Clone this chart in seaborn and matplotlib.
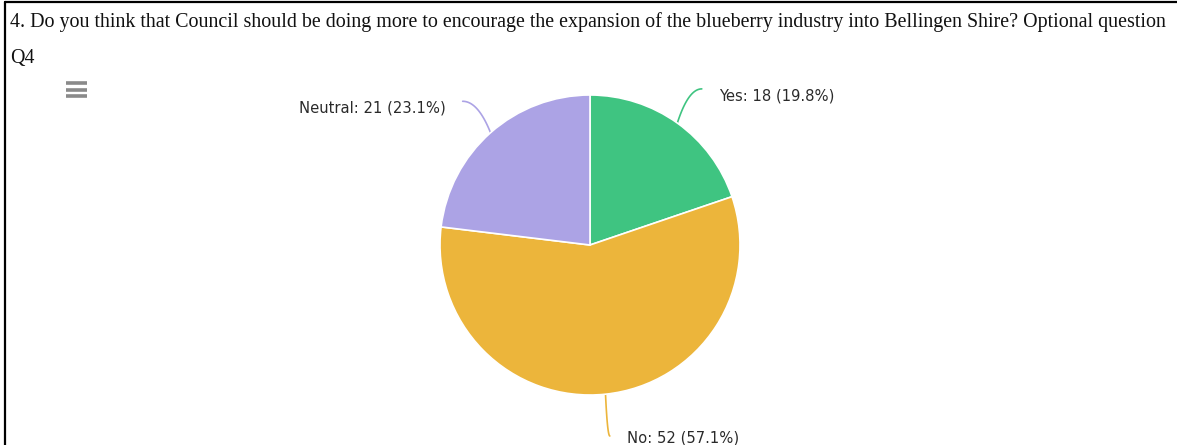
import numpy as np
import matplotlib
matplotlib.use("Agg")
import matplotlib.pyplot as plt
from matplotlib.lines import Line2D
import seaborn as sns

# Survey responses
categories = ["Yes", "No", "Neutral"]
counts = [18, 52, 21]
percent_labels = ["19.8%", "57.1%", "23.1%"]
slice_colors = ["#3fc481", "#ecb53b", "#aca3e5"]

title_text = ("4. Do you think that Council should be doing more to encourage the expansion "
              "of the blueberry industry into Bellingen Shire? Optional question")
subtitle_text = "Q4"

sns.set_theme(style="white")
plt.rcParams["font.family"] = ["DejaVu Sans"]

W, H = 1177, 445
fig = plt.figure(figsize=(W / 100, H / 100), dpi=100)

# Overlay in pixel coordinates for the page furniture and labels
ov = fig.add_axes([0, 0, 1, 1])
ov.set_xlim(0, W)
ov.set_ylim(H, 0)
ov.axis("off")

# Frame lines (top and left)
ov.add_line(Line2D([5, W], [1.5, 1.5], color="black", lw=1.6))
ov.add_line(Line2D([5, 5], [1.5, H], color="black", lw=1.6))

ov.text(10, 22, title_text, family="Liberation Serif", fontsize=14.4,
        va="center", ha="left", color="#111111")
ov.text(10, 58, subtitle_text, family="Liberation Serif", fontsize=14.4,
        va="center", ha="left", color="#111111")

# Menu icon
for yy in (83, 89.5, 96):
    ov.add_line(Line2D([66, 87], [yy, yy], color="#8a8a8a", lw=2.6,
                       solid_capstyle="butt"))

# Pie
cx, cy, R = 590, 245, 150
pie_ax = fig.add_axes([(cx - R) / W, 1 - (cy + R) / H, 2 * R / W, 2 * R / H])
wedges, _ = pie_ax.pie(counts, colors=slice_colors, startangle=90, counterclock=False,
                       wedgeprops=dict(edgecolor="white", linewidth=1.2))
pie_ax.set_aspect("auto")
pie_ax.set_xlim(-1, 1)
pie_ax.set_ylim(-1, 1)
pie_ax.axis("off")

total = sum(counts)
cum = 0.0
for cat, n, pct, col in zip(categories, counts, percent_labels, slice_colors):
    mid = (cum + n / 2) / total * 2 * np.pi  # clockwise from top
    cum += n
    dx, dy = np.sin(mid), -np.cos(mid)
    p0 = np.array([cx + R * dx, cy + R * dy])
    p2 = np.array([cx + 1.28 * R * dx, cy + 1.28 * R * dy])
    side = 1 if dx >= 0 else -1
    p1 = np.array([p0[0] + 0.45 * (p2[0] - p0[0]), p2[1]])
    t = np.linspace(0, 1, 40)[:, None]
    curve = (1 - t) ** 2 * p0 + 2 * (1 - t) * t * p1 + t ** 2 * p2
    ov.plot(curve[:, 0], curve[:, 1], color=col, lw=1.2)
    ov.text(p2[0] + side * 17, p2[1] + (7 if dy < 0 else 2), f"{cat}: {n} ({pct})",
            fontsize=10.6, ha="left" if side > 0 else "right", va="center",
            color="#2a2a2a")

fig.savefig("out.png", dpi=100, facecolor="white")
